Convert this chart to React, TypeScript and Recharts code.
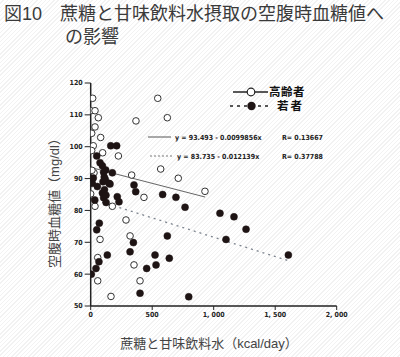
import React from 'react';
import { ScatterChart, Scatter, XAxis, YAxis, ReferenceLine } from 'recharts';

const titleLine1 = '図10　蔗糖と甘味飲料水摂取の空腹時血糖値へ';
const titleLine2 = 'の影響';
const xAxisTitle = '蔗糖と甘味飲料水（kcal/day）';
const yAxisTitle = '空腹時血糖値（mg/dl）';
const seriesNames = ['高齢者', '若者'];
const fitTexts = [
  ['y = 93.493 - 0.0099856x', 'R= 0.13667'],
  ['y = 83.735 - 0.012139x', 'R= 0.37788'],
];

const xTicks = [0, 500, 1000, 1500, 2000];
const xTickLabels = ['0', '500', '1, 000', '1, 500', '2, 000'];
const yTicks = [50, 60, 70, 80, 90, 100, 110, 120];

// 高齢者 (open circles)
const elderX = [16, 545, 0, 35, 62, 623, 368, 35, 8, 81, 21, 8, 97, 225, 569, 27, 333, 712, 10, 929, 0, 433, 35, 176, 287, 76, 320, 57, 352, 57, 401, 165];
const elderY = [115.2, 115.2, 111.3, 111.3, 109.1, 109.1, 108.1, 106.2, 104.2, 102.9, 100.3, 98.8, 98.1, 97.1, 93.0, 91.8, 91.1, 90.1, 92.6, 86.0, 85.2, 84.1, 81.3, 81.3, 77.0, 70.9, 72.0, 65.2, 62.9, 57.9, 57.9, 53.0];

// 若者 (filled circles)
const youngX = [163, 211, 49, 76, 122, 176, 95, 105, 110, 100, 118, 95, 105, 125, 112, 157, 124, 13, 54, 149, 352, 366, 216, 230, 33, 585, 693, 767, 1051, 1165, 1263, 1100, 1607, 623, 70, 49, 347, 320, 135, 67, 43, 639, 523, 531, 455, 5, 401, 797, 21];
const youngY = [100.3, 100.3, 97.1, 95.0, 92.7, 91.8, 94.0, 92.0, 90.5, 89.0, 89.8, 85.5, 84.0, 82.5, 86.5, 88.3, 84.8, 88.5, 87.5, 88.5, 88.0, 85.9, 84.3, 82.7, 83.3, 85.0, 84.1, 81.0, 79.1, 78.0, 74.1, 70.9, 66.0, 72.0, 76.0, 73.9, 69.9, 67.0, 66.0, 63.9, 61.8, 65.0, 66.0, 62.9, 61.8, 60.0, 54.0, 52.9, 90.2];

// regression line end points
const elderFitX = [0, 930];
const elderFitY = [93.493, 84.207];
const youngFitX = [0, 1607];
const youngFitY = [83.735, 64.228];

const elderData = elderX.map((x, i) => ({ x, y: elderY[i] }));
const youngData = youngX.map((x, i) => ({ x, y: youngY[i] }));

const tickFont = "'Liberation Sans Narrow', 'DejaVu Sans Condensed', 'Liberation Sans', sans-serif";
const cjkFont = "'Liberation Sans', 'Noto Sans CJK JP', sans-serif";

const OpenDot = (p: any) => (
  <circle cx={p.cx} cy={p.cy} r={3.3} fill="#ffffff" stroke="#333" strokeWidth={1} />
);
const FilledDot = (p: any) => (
  <circle cx={p.cx} cy={p.cy} r={3.5} fill="#1e1414" stroke="#1e1414" strokeWidth={0.5} />
);

export default function App() {
  return (
    <div
      style={{
        position: 'absolute',
        left: 0,
        top: 0,
        width: 400,
        height: 357,
        overflow: 'hidden',
        background:
          'repeating-linear-gradient(135deg, #ffffff 0px, #ffffff 2px, #f2f2f2 2px, #f2f2f2 3px)',
      }}
    >
      <div
        style={{
          position: 'absolute',
          left: 4,
          top: 3,
          fontFamily: cjkFont,
          fontSize: 18,
          lineHeight: '22px',
          color: '#3a3a3a',
          whiteSpace: 'nowrap',
        }}
      >
        {titleLine1}
      </div>
      <div
        style={{
          position: 'absolute',
          left: 65,
          top: 26,
          fontFamily: cjkFont,
          fontSize: 18,
          lineHeight: '22px',
          color: '#3a3a3a',
          whiteSpace: 'nowrap',
        }}
      >
        {titleLine2}
      </div>
      <div style={{ position: 'absolute', left: 0, top: 0 }}>
        <ScatterChart
          width={400}
          height={357}
          margin={{ top: 83, right: 63.3, bottom: 31, left: 50.7 }}
        >
          <XAxis
            type="number"
            dataKey="x"
            domain={[0, 2000]}
            ticks={xTicks}
            tickFormatter={(v: number) => xTickLabels[xTicks.indexOf(v)]}
            height={20}
            tickSize={4}
            tickMargin={2}
            axisLine={{ stroke: '#222', strokeWidth: 1.5 }}
            tickLine={{ stroke: '#222', strokeWidth: 1 }}
            tick={{ fontSize: 7, fontWeight: 'bold', fill: '#222', fontFamily: tickFont }}
            allowDataOverflow
          />
          <YAxis
            type="number"
            dataKey="y"
            domain={[50, 120]}
            ticks={yTicks}
            width={40}
            tickSize={6}
            tickMargin={2}
            axisLine={{ stroke: '#222', strokeWidth: 1.5 }}
            tickLine={{ stroke: '#222', strokeWidth: 1 }}
            tick={{ fontSize: 7, fontWeight: 'bold', fill: '#222', fontFamily: tickFont }}
            allowDataOverflow
          />
          <ReferenceLine
            segment={[
              { x: elderFitX[0], y: elderFitY[0] },
              { x: elderFitX[1], y: elderFitY[1] },
            ]}
            stroke="#666"
            strokeWidth={1}
            ifOverflow="visible"
          />
          <ReferenceLine
            segment={[
              { x: youngFitX[0], y: youngFitY[0] },
              { x: youngFitX[1], y: youngFitY[1] },
            ]}
            stroke="#7d848e"
            strokeWidth={1.3}
            strokeDasharray="2 4"
            ifOverflow="visible"
          />
          <Scatter name={seriesNames[0]} data={elderData} shape={OpenDot} isAnimationActive={false} />
          <Scatter name={seriesNames[1]} data={youngData} shape={FilledDot} isAnimationActive={false} />
        </ScatterChart>
      </div>
      <svg
        width={400}
        height={357}
        style={{ position: 'absolute', left: 0, top: 0, pointerEvents: 'none' }}
      >
        {/* legend */}
        <line x1={233} y1={92} x2={268} y2={92} stroke="#222" strokeWidth={1.5} />
        <circle cx={251} cy={92} r={3.8} fill="#fff" stroke="#222" strokeWidth={1.2} />
        <text x={269} y={96} fontSize={11.5} letterSpacing={0.5} fontWeight="bold" fill="#111" fontFamily={cjkFont}>
          {seriesNames[0]}
        </text>
        <line x1={230} y1={106} x2={268} y2={106} stroke="#222" strokeWidth={1.5} strokeDasharray="3 4" />
        <circle cx={251.5} cy={106} r={4.2} fill="#1e1414" />
        <text x={277} y={110} fontSize={11.5} letterSpacing={2} fontWeight="bold" fill="#111" fontFamily={cjkFont}>
          {seriesNames[1]}
        </text>
        {/* regression equations */}
        <line x1={148} y1={137} x2={171} y2={137} stroke="#555" strokeWidth={1} />
        <text x={175} y={139.5} fontSize={7} fontWeight="bold" fill="#222" fontFamily={tickFont}>
          {fitTexts[0][0]}
        </text>
        <text x={282} y={139.5} fontSize={7} fontWeight="bold" fill="#222" fontFamily={tickFont}>
          {fitTexts[0][1]}
        </text>
        <line x1={150} y1={156} x2={174} y2={156} stroke="#777" strokeWidth={1} strokeDasharray="2 2" />
        <text x={177} y={158.5} fontSize={7} fontWeight="bold" fill="#222" fontFamily={tickFont}>
          {fitTexts[1][0]}
        </text>
        <text x={282} y={158.5} fontSize={7} fontWeight="bold" fill="#222" fontFamily={tickFont}>
          {fitTexts[1][1]}
        </text>
        {/* axis titles */}
        <text
          x={209}
          y={343}
          textAnchor="middle"
          dominantBaseline="central"
          fontSize={13}
          fill="#444"
          fontFamily={cjkFont}
        >
          {xAxisTitle}
        </text>
        <text
          x={54}
          y={200}
          textAnchor="middle"
          dominantBaseline="central"
          fontSize={13}
          fill="#444"
          fontFamily={cjkFont}
          transform="rotate(-90 54 200)"
        >
          {yAxisTitle}
        </text>
      </svg>
    </div>
  );
}
